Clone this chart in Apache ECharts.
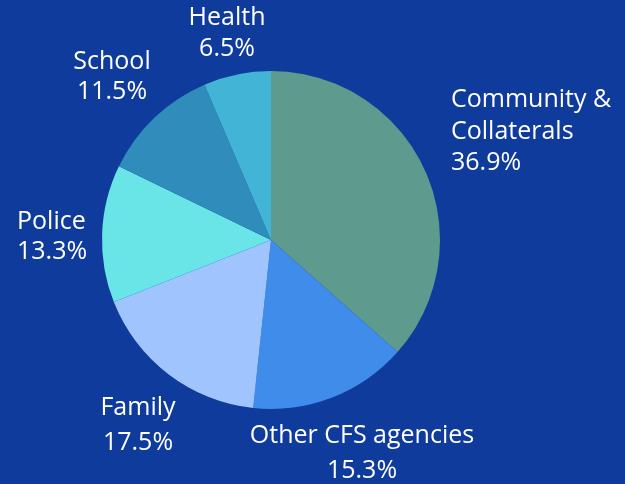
<!DOCTYPE html>
<html><head><meta charset="utf-8">
<script src="https://cdn.jsdelivr.net/npm/echarts@6/dist/echarts.min.js"></script>
<style>html,body{margin:0;padding:0;background:#0e3b9c;}#c{width:625px;height:484px;}</style>
</head><body><div id="c"></div>
<script>
const categories = ['Community &\nCollaterals', 'Other CFS agencies', 'Family', 'Police', 'School', 'Health'];
const values = [36.9, 15.3, 17.5, 13.3, 11.5, 6.5];
const colors = ['#5e9a8e', '#3f8ceb', '#a0c4fe', '#6ae5e7', '#2f8cbb', '#42b5d6'];
// label anchor placement [x, y(top), align, lineHeight]
const labelPlace = [
  [451, 84.5, 'left', 31.5],
  [362, 418.5, 'center', 35],
  [138, 390.5, 'center', 35],
  [17, 207, 'left', 30],
  [112, 47, 'center', 30],
  [227, 2.5, 'center', 31]
];
const chart = echarts.init(document.getElementById('c'));
chart.setOption({
  backgroundColor: '#0e3b9c',
  animation: false,
  series: [{
    type: 'pie',
    center: [271, 240],
    radius: [0, 169],
    startAngle: 90,
    clockwise: true,
    data: categories.map((n, i) => ({
      name: n, value: values[i],
      itemStyle: { color: colors[i] },
      label: { lineHeight: labelPlace[i][3], align: labelPlace[i][2] }
    })),
    itemStyle: { borderWidth: 0 },
    label: {
      show: true,
      position: 'outside',
      color: '#ffffff',
      fontFamily: 'Open Sans',
      fontSize: 25,
      overflow: 'none',
      edgeDistance: 0,
      formatter: p => p.name + '\n' + p.value.toFixed(1) + '%'
    },
    labelLine: { show: false },
    labelLayout: function (params) {
      const p = labelPlace[params.dataIndex];
      return { x: p[0], y: p[1], align: p[2], verticalAlign: 'top', hideOverlap: false };
    }
  }]
});
</script></body></html>
